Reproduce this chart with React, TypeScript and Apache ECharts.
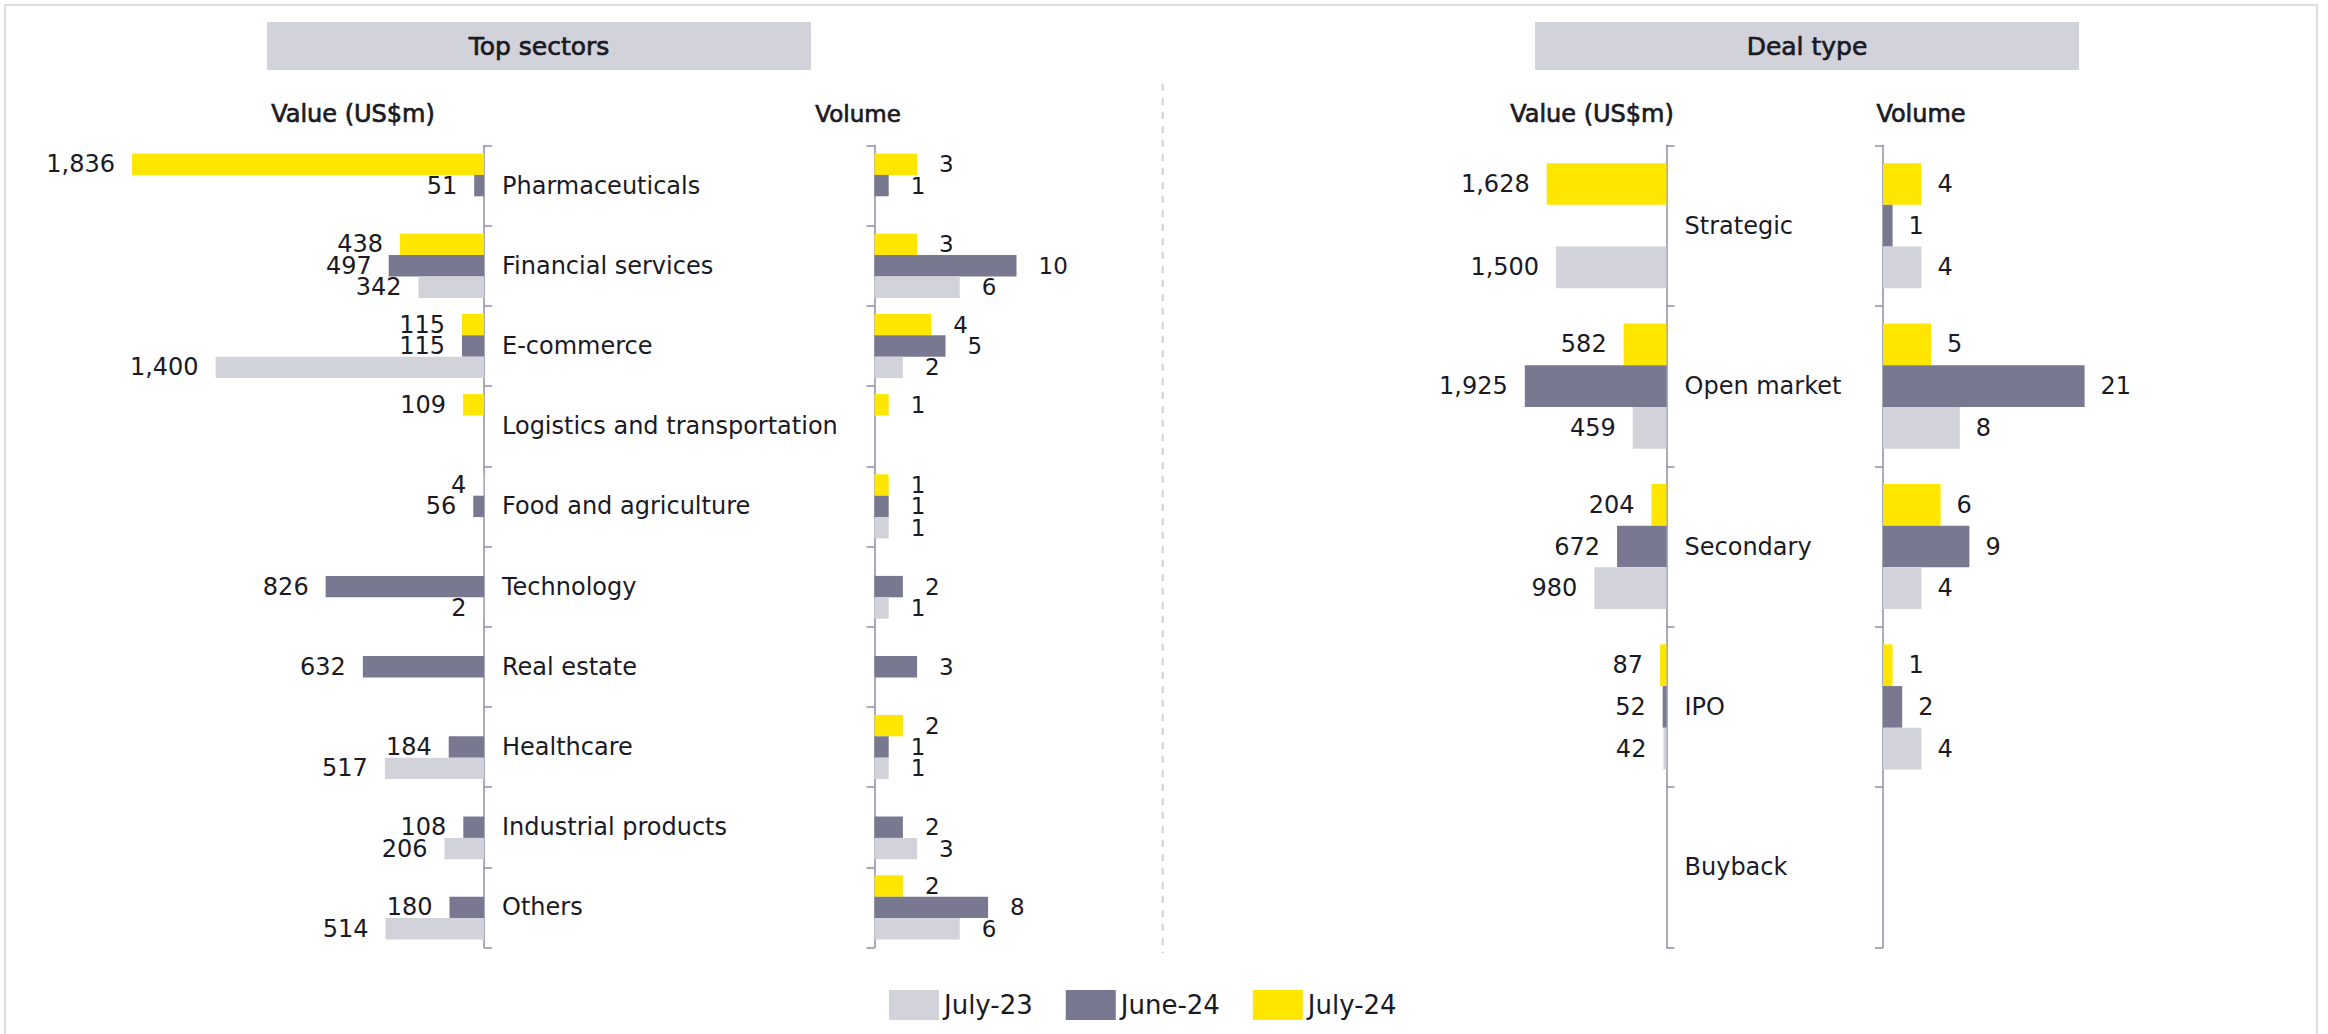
import React, { useEffect, useRef } from 'react';
import * as echarts from 'echarts';

// ---------- data ----------
const seriesNames = ['July-23', 'June-24', 'July-24'];

const sectors = [
  'Pharmaceuticals',
  'Financial services',
  'E-commerce',
  'Logistics and transportation',
  'Food and agriculture',
  'Technology',
  'Real estate',
  'Healthcare',
  'Industrial products',
  'Others',
];
const sectorValueJul23 = [null, 342, 1400, null, null, 2, null, 517, 206, 514];
const sectorValueJun24 = [51, 497, 115, null, 56, 826, 632, 184, 108, 180];
const sectorValueJul24 = [1836, 438, 115, 109, 4, null, null, null, null, null];
const sectorVolumeJul23 = [null, 6, 2, null, 1, 1, null, 1, 3, 6];
const sectorVolumeJun24 = [1, 10, 5, null, 1, 2, 3, 1, 2, 8];
const sectorVolumeJul24 = [3, 3, 4, 1, 1, null, null, 2, null, 2];

const dealTypes = ['Strategic', 'Open market', 'Secondary', 'IPO', 'Buyback'];
const dealValueJul23 = [1500, 459, 980, 42, null];
const dealValueJun24 = [null, 1925, 672, 52, null];
const dealValueJul24 = [1628, 582, 204, 87, null];
const dealVolumeJul23 = [4, 8, 4, 4, null];
const dealVolumeJun24 = [1, 21, 9, 2, null];
const dealVolumeJul24 = [4, 5, 6, 1, null];

// ---------- styles ----------
const COLORS = ['#d2d2da', '#787890', '#ffe600'];
const FONT = 'DejaVu Sans';
const TEXT = '#1a1a24';
const AXIS = '#8e8ea2';

type Num = number | null;
const toData = (arr: Num[]) => arr.map((v) => (v === null ? '-' : v));

function barSeries(
  name: string,
  color: string,
  data: Num[],
  axisIndex: number,
  labelPos: 'left' | 'right',
  distance: number,
  fontSize: number,
  gap: string
) {
  return {
    type: 'bar',
    name,
    xAxisIndex: axisIndex,
    yAxisIndex: axisIndex,
    data: toData(data),
    barGap: '0%',
    barCategoryGap: gap,
    itemStyle: { color },
    label: {
      show: true,
      position: labelPos,
      distance,
      color: TEXT,
      fontFamily: FONT,
      fontSize,
      formatter: (p: any) =>
        typeof p.value === 'number' ? p.value.toLocaleString('en-US') : '',
    },
    emphasis: { disabled: true },
  };
}

const AXIS_TOP = 145.5;
const AXIS_H = 802;

export default function App() {
  const ref = useRef<HTMLDivElement>(null);

  useEffect(() => {
    if (!ref.current) return;
    const chart = echarts.init(ref.current, undefined, { renderer: 'svg' });

    const grids = [
      { left: 100.6, top: AXIS_TOP, width: 383.4, height: AXIS_H, outerBoundsMode: 'none' },
      { left: 874.5, top: AXIS_TOP, width: 170.4, height: AXIS_H, outerBoundsMode: 'none' },
      { left: 1482.5, top: AXIS_TOP, width: 184, height: AXIS_H, outerBoundsMode: 'none' },
      { left: 1883, top: AXIS_TOP, width: 240, height: AXIS_H, outerBoundsMode: 'none' },
    ];

    const valueAxis = (gridIndex: number, max: number, inverse: boolean) => ({
      type: 'value',
      gridIndex,
      min: 0,
      max,
      inverse,
      show: false,
      splitLine: { show: false },
    });

    const catAxis = (
      gridIndex: number,
      cats: string[],
      position: 'left' | 'right',
      showLabel: boolean
    ) => ({
      type: 'category',
      gridIndex,
      data: cats,
      inverse: true,
      position,
      axisLine: { show: true, lineStyle: { color: AXIS, width: 1.5 } },
      axisTick: { show: true, length: 8, lineStyle: { color: AXIS, width: 1.5 } },
      axisLabel: {
        show: showLabel,
        margin: 18,
        color: TEXT,
        fontFamily: FONT,
        fontSize: 24,
        align: 'left',
      },
      splitLine: { show: false },
    });

    const sectorValues = [sectorValueJul23, sectorValueJun24, sectorValueJul24];
    const sectorVolumes = [sectorVolumeJul23, sectorVolumeJun24, sectorVolumeJul24];
    const dealValues = [dealValueJul23, dealValueJun24, dealValueJul24];
    const dealVolumes = [dealVolumeJul23, dealVolumeJun24, dealVolumeJul24];

    const order = [2, 1, 0];
    const series: any[] = [];
    order.forEach((i) =>
      series.push(barSeries(seriesNames[i], COLORS[i], sectorValues[i], 0, 'left', 17, 24, '20%'))
    );
    order.forEach((i) =>
      series.push(barSeries(seriesNames[i], COLORS[i], sectorVolumes[i], 1, 'right', 22, 23, '20%'))
    );
    order.forEach((i) =>
      series.push(barSeries(seriesNames[i], COLORS[i], dealValues[i], 2, 'left', 17, 24, '22%'))
    );
    order.forEach((i) =>
      series.push(barSeries(seriesNames[i], COLORS[i], dealVolumes[i], 3, 'right', 16, 24, '22%'))
    );

    const headerText = (text: string, x: number, y: number, size: number) => ({
      type: 'text',
      x,
      y,
      style: {
        text,
        fill: TEXT,
        stroke: TEXT,
        lineWidth: 0.7,
        font: `${size}px "${FONT}"`,
        textAlign: 'center',
        textVerticalAlign: 'middle',
      },
    });

    chart.setOption({
      animation: false,
      backgroundColor: '#ffffff',
      grid: grids,
      xAxis: [
        valueAxis(0, 2000, true),
        valueAxis(1, 12, false),
        valueAxis(2, 2500, true),
        valueAxis(3, 25, false),
      ],
      yAxis: [
        catAxis(0, sectors, 'right', true),
        catAxis(1, sectors, 'left', false),
        catAxis(2, dealTypes, 'right', true),
        catAxis(3, dealTypes, 'left', false),
      ],
      legend: {
        data: seriesNames,
        left: 889,
        top: 990,
        padding: 0,
        itemWidth: 50,
        itemHeight: 30,
        itemGap: 33,
        icon: 'rect',
        selectedMode: false,
        textStyle: { color: TEXT, fontFamily: FONT, fontSize: 26 },
      },
      series,
      graphic: [
        {
          type: 'polyline',
          shape: { points: [[5, 1040], [5, 5], [2317, 5], [2317, 1040]] },
          style: { stroke: '#dcdce2', lineWidth: 2, fill: null },
          silent: true,
        },
        {
          type: 'line',
          shape: { x1: 1162.7, y1: 84, x2: 1162.7, y2: 953 },
          style: { stroke: '#d0d0d8', lineWidth: 2, lineDash: [7, 7] },
          silent: true,
        },
        { type: 'rect', shape: { x: 267, y: 22, width: 544, height: 48 }, style: { fill: '#d2d2da' }, silent: true },
        { type: 'rect', shape: { x: 1535, y: 22, width: 544, height: 48 }, style: { fill: '#d2d2da' }, silent: true },
        headerText('Top sectors', 539, 46, 25),
        headerText('Deal type', 1807, 46, 25),
        headerText('Value (US$m)', 353, 114, 24),
        headerText('Volume', 858, 114, 23),
        headerText('Value (US$m)', 1592, 114, 24),
        headerText('Volume', 1921, 114, 24),
      ],
    });

    return () => chart.dispose();
  }, []);

  return (
    <div
      ref={ref}
      style={{ position: 'fixed', left: 0, top: 0, width: 2328, height: 1034, background: '#fff' }}
    />
  );
}
